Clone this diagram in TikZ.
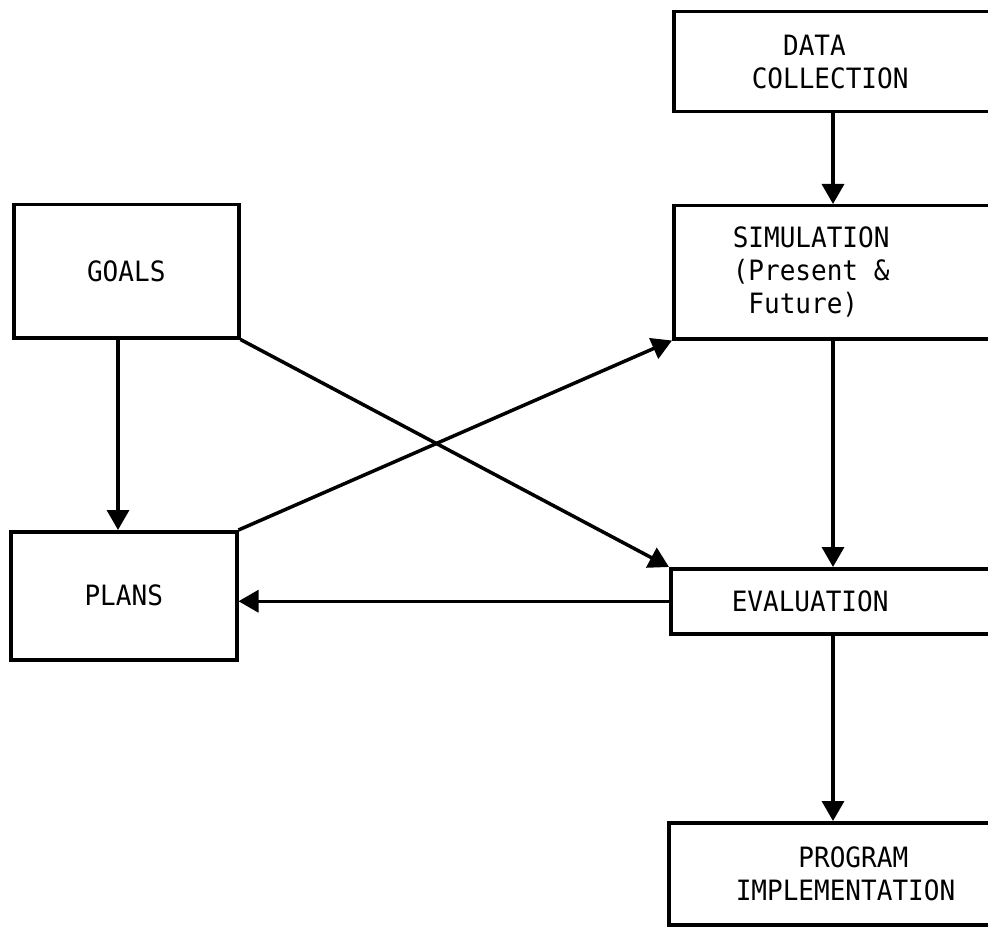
\documentclass[tikz,border=0pt]{standalone}
\usepackage{fontspec}
\setmonofont[FakeStretch=0.93]{DejaVu Sans Mono}
\usetikzlibrary{arrows.meta, positioning}

\begin{document}
\begin{tikzpicture}[
  x=1pt, y=-1pt,
  block/.style={
    rectangle,
    draw=black,
    line width=3.5pt,
    font=\ttfamily\fontsize{28}{33}\selectfont,
    inner sep=0pt,
    anchor=north west
  },
  sidebox/.style 2 args={
    block,
    minimum width=400pt,
    align=left,
    inner xsep=#1,
    text width=#2
  },
  connection/.style={
    -{Triangle[length=20pt, width=22pt]},
    line width=3.5pt,
    draw=black
  }
]
\useasboundingbox (0,0) rectangle (988,928);
\clip (0,0) rectangle (988,928);

% Right column (cut off by the page edge)
\node[sidebox={78pt}{244pt}, minimum height=100pt] (data) at (672,10) {\hphantom{CO}DATA\\COLLECTION};
\node[sidebox={59pt}{282pt}, minimum height=133pt] (sim) at (672,204) {SIMULATION\\(Present\hphantom{x}\&\\\hphantom{(}Future)};
\node[sidebox={61pt}{278pt}, minimum height=65pt] (eval) at (669,567) {EVALUATION};
\node[sidebox={67pt}{266pt}, minimum height=102pt] (prog) at (667,821) {\hphantom{IMPL}PROGRAM\\IMPLEMENTATION};

% Left column
\node[block, minimum width=225pt, minimum height=133pt] (goals) at (12,203) {GOALS};
\node[block, minimum width=226pt, minimum height=128pt] (plans) at (9,530) {PLANS};

% Vertical lines
\coordinate (spine) at (833,0);
\coordinate (drop) at (118,0);

\draw[connection] (data.south -| spine) -- (sim.north -| spine);
\draw[connection] (sim.south -| spine) -- (eval.north -| spine);
\draw[connection] (eval.south -| spine) -- (prog.north -| spine);
\draw[connection] (goals.south -| drop) -- (plans.north -| drop);

% Crossing lines
\draw[connection] (goals.south east) -- (eval.north west);
\draw[connection] (plans.north east) -- (sim.south west);

% Feedback
\draw[connection] (eval.west) -- (eval.west -| plans.east);

\end{tikzpicture}
\end{document}
